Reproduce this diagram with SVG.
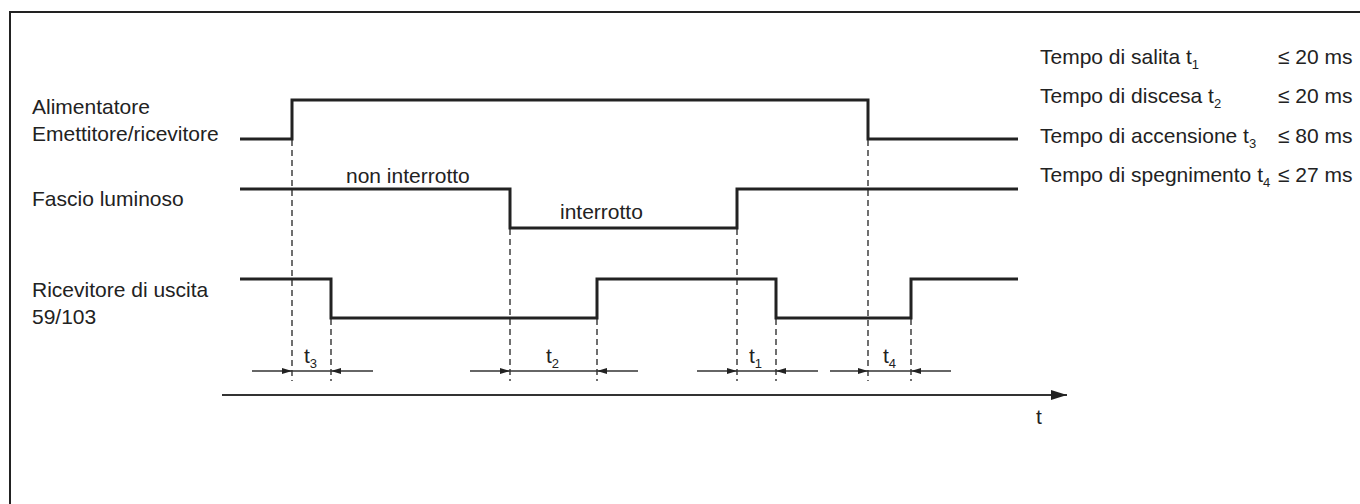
<svg xmlns="http://www.w3.org/2000/svg" width="1360" height="504" viewBox="0 0 1360 504">
<style>
  text { font-family: "Liberation Sans", Arial, sans-serif; font-size: 21px; fill: #222; }
  .sub { font-size: 13px; }
  .sig { fill: none; stroke: #222; stroke-width: 3; stroke-linejoin: miter; }
  .dash { fill: none; stroke: #222; stroke-width: 1.3; stroke-dasharray: 6 4; }
  .dim { fill: none; stroke: #333; stroke-width: 1.5; }
  .axis { fill: none; stroke: #333; stroke-width: 2; }
</style>
<defs>
  <marker id="ah" viewBox="0 0 10 6" refX="10" refY="3" markerWidth="10" markerHeight="6" markerUnits="userSpaceOnUse" orient="auto">
    <path d="M0,0 L10,3 L0,6 Z" fill="#222"/>
  </marker>
  <marker id="axh" viewBox="0 0 16 10" refX="16" refY="5" markerWidth="16" markerHeight="10" markerUnits="userSpaceOnUse" orient="auto">
    <path d="M0,0 L16,5 L0,10 Z" fill="#222"/>
  </marker>
</defs>
<rect x="0" y="0" width="1360" height="504" fill="#fff"/>
<rect x="10" y="12" width="1370" height="520" fill="none" stroke="#222" stroke-width="2"/>

<g id="labels">
  <text x="32" y="114">Alimentatore</text>
  <text x="32" y="141">Emettitore/ricevitore</text>
  <text x="32" y="206">Fascio luminoso</text>
  <text x="32" y="297">Ricevitore di uscita</text>
  <text x="32" y="324">59/103</text>
  <text x="346" y="183">non interrotto</text>
  <text x="560" y="219">interrotto</text>
</g>

<g id="legend">
  <text x="1040" y="64">Tempo di salita t<tspan class="sub" dy="5">1</tspan></text>
  <text x="1278" y="64">≤ 20 ms</text>
  <text x="1040" y="103">Tempo di discesa t<tspan class="sub" dy="5">2</tspan></text>
  <text x="1278" y="103">≤ 20 ms</text>
  <text x="1040" y="143">Tempo di accensione t<tspan class="sub" dy="5">3</tspan></text>
  <text x="1278" y="143">≤ 80 ms</text>
  <text x="1040" y="182">Tempo di spegnimento t<tspan class="sub" dy="5">4</tspan></text>
  <text x="1278" y="182">≤ 27 ms</text>
</g>

<g id="signals">
  <polyline id="power" class="sig" points="240,139 292,139 292,100 868,100 868,139 1018,139"/>
  <polyline id="beam" class="sig" points="240,189 510,189 510,228 737,228 737,189 1018,189"/>
  <polyline id="receiver" class="sig" points="240,279 331,279 331,318 597,318 597,279 776,279 776,318 911,318 911,279 1018,279"/>
</g>

<g id="connectors">
  <line class="dash" x1="292" y1="140" x2="292" y2="381"/>
  <line class="dash" x1="331" y1="319" x2="331" y2="381"/>
  <line class="dash" x1="510" y1="229" x2="510" y2="381"/>
  <line class="dash" x1="597" y1="319" x2="597" y2="381"/>
  <line class="dash" x1="737" y1="229" x2="737" y2="381"/>
  <line class="dash" x1="776" y1="319" x2="776" y2="381"/>
  <line class="dash" x1="868" y1="140" x2="868" y2="381"/>
  <line class="dash" x1="911" y1="319" x2="911" y2="381"/>

  <line class="dim" x1="252" y1="371" x2="292" y2="371" marker-end="url(#ah)"/>
  <line class="dim" x1="292" y1="371" x2="331" y2="371" stroke-width="1"/>
  <line class="dim" x1="373" y1="371" x2="331" y2="371" marker-end="url(#ah)"/>

  <line class="dim" x1="470" y1="371" x2="510" y2="371" marker-end="url(#ah)"/>
  <line class="dim" x1="510" y1="371" x2="597" y2="371" stroke-width="1"/>
  <line class="dim" x1="638" y1="371" x2="597" y2="371" marker-end="url(#ah)"/>

  <line class="dim" x1="697" y1="371" x2="737" y2="371" marker-end="url(#ah)"/>
  <line class="dim" x1="737" y1="371" x2="776" y2="371" stroke-width="1"/>
  <line class="dim" x1="818" y1="371" x2="776" y2="371" marker-end="url(#ah)"/>

  <line class="dim" x1="830" y1="371" x2="868" y2="371" marker-end="url(#ah)"/>
  <line class="dim" x1="868" y1="371" x2="911" y2="371" stroke-width="1"/>
  <line class="dim" x1="951" y1="371" x2="911" y2="371" marker-end="url(#ah)"/>

  <line class="axis" x1="222" y1="395" x2="1067" y2="395" marker-end="url(#axh)"/>
</g>

<g id="dim-labels">
  <text x="304" y="363">t<tspan class="sub" dy="5">3</tspan></text>
  <text x="546" y="363">t<tspan class="sub" dy="5">2</tspan></text>
  <text x="749" y="363">t<tspan class="sub" dy="5">1</tspan></text>
  <text x="883" y="363">t<tspan class="sub" dy="5">4</tspan></text>
  <text x="1036" y="424">t</text>
</g>
</svg>
